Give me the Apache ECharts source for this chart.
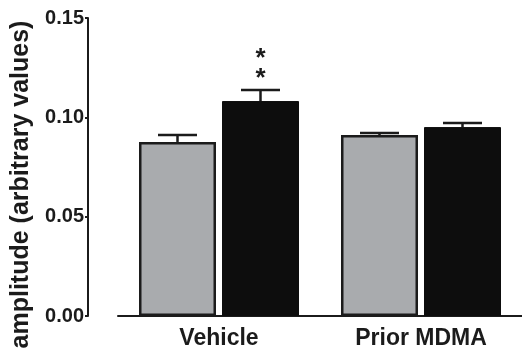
<!DOCTYPE html>
<html>
<head>
<meta charset="utf-8">
<script src="https://cdn.jsdelivr.net/npm/echarts@6/dist/echarts.min.js"></script>
<style>
  html, body { margin: 0; padding: 0; background: #fff; }
  #chart { width: 522px; height: 356px; }
</style>
</head>
<body>
<div id="chart"></div>
<script>
// Group labels on the x axis
const categories = ['Vehicle', 'Prior MDMA'];
// Grey bars: mean and SEM per group
const greyMeans = [0.0876, 0.0911];
const greySem = [0.0035, 0.0010];
// Black bars: mean and SEM per group
const blackMeans = [0.1082, 0.0951];
const blackSem = [0.0056, 0.0020];
// Significance marks above the black bars
const blackStars = ['*\n*', ''];
// Y axis ticks
const yTicks = [0.00, 0.05, 0.10, 0.15];

const INK = '#1b1b1b';
const GREY = '#a9abae';
const BLACK = '#0d0d0d';
const BAR_W = 77;
const BAR_GAP = 6;
const CAP_W = 39;
const FONT = 'Liberation Sans, Arial, Helvetica, sans-serif';

function errorSeries(means, sems, stars, offset) {
  return {
    type: 'custom',
    z: 5,
    data: means.map((m, i) => [i, m, sems[i]]),
    renderItem: function (params, api) {
      const i = api.value(0);
      const mean = api.value(1);
      const sem = api.value(2);
      const base = api.coord([i, mean]);
      const top = api.coord([i, mean + sem]);
      const x = base[0] + offset;
      const style = { stroke: INK, lineWidth: 2.5 };
      const children = [
        { type: 'line', shape: { x1: x, y1: base[1], x2: x, y2: top[1] }, style: style },
        { type: 'line', shape: { x1: x - CAP_W / 2, y1: top[1], x2: x + CAP_W / 2, y2: top[1] }, style: style }
      ];
      const star = stars ? stars[params.dataIndex] : '';
      if (star) {
        children.push({
          type: 'text',
          style: {
            text: star, x: x, y: top[1] - 1,
            align: 'center', verticalAlign: 'bottom',
            font: 'bold 26px ' + FONT, lineHeight: 20, fill: INK
          }
        });
      }
      return { type: 'group', children: children };
    }
  };
}

const chart = echarts.init(document.getElementById('chart'), null, { renderer: 'canvas' });
const half = (BAR_W + BAR_GAP) / 2;

chart.setOption({
  backgroundColor: '#ffffff',
  animation: false,
  grid: { left: 118, right: -5, top: 18, bottom: 40, containLabel: false },
  xAxis: {
    type: 'category',
    data: categories,
    axisLine: { lineStyle: { color: INK, width: 2 } },
    axisTick: { show: false },
    axisLabel: { color: INK, fontFamily: FONT, fontWeight: 'bold', fontSize: 23, margin: 11 }
  },
  yAxis: {
    type: 'value',
    min: 0,
    max: 0.15,
    interval: 0.05,
    offset: 30,
    name: 'amplitude (arbitrary values)',
    nameLocation: 'middle',
    nameGap: 54,
    nameTextStyle: { color: INK, fontFamily: FONT, fontWeight: 'bold', fontSize: 25, padding: [0, 35, 0, 0] },
    splitLine: { show: false },
    axisLine: { show: true, lineStyle: { color: INK, width: 2 } },
    axisTick: { show: true, length: 3, lineStyle: { color: INK, width: 2 } },
    axisLabel: {
      color: INK, fontFamily: FONT, fontWeight: 'bold', fontSize: 20, margin: 4,
      formatter: v => {
        const t = yTicks.find(k => Math.abs(k - v) < 1e-9);
        return (t !== undefined ? t : v).toFixed(2);
      }
    }
  },
  series: [
    {
      type: 'bar',
      data: greyMeans,
      barWidth: BAR_W,
      barGap: (BAR_GAP / BAR_W * 100) + '%',
      itemStyle: { color: GREY, borderColor: INK, borderWidth: 2.5 }
    },
    {
      type: 'bar',
      data: blackMeans,
      barWidth: BAR_W,
      itemStyle: { color: BLACK, borderColor: BLACK, borderWidth: 1 }
    },
    errorSeries(greyMeans, greySem, null, -half),
    errorSeries(blackMeans, blackSem, blackStars, half)
  ]
});
</script>
</body>
</html>
